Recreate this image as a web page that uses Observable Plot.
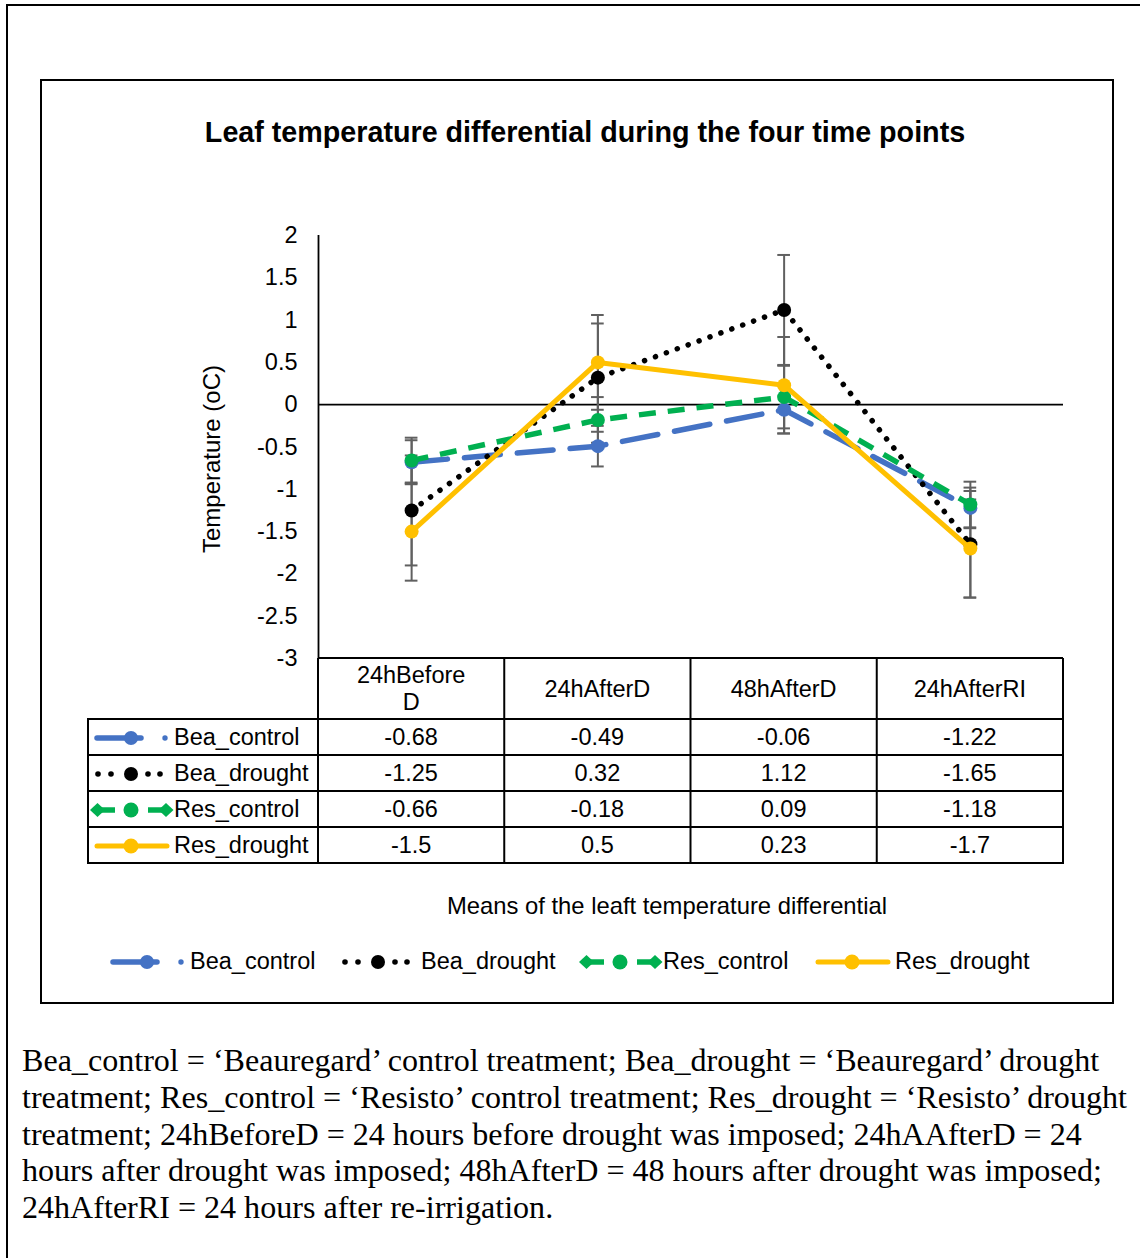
<!DOCTYPE html>
<html><head><meta charset="utf-8">
<script src="https://cdn.jsdelivr.net/npm/d3@7"></script>
<script src="https://cdn.jsdelivr.net/npm/@observablehq/plot@0.6"></script>
<style>
body{margin:0;background:#fff;}
#root{position:relative;width:1140px;height:1258px;overflow:hidden;font-family:"Liberation Sans",Arial,sans-serif;color:#000;background:#fff;}
.abs{position:absolute;}
</style></head><body><div id="root"></div>
<script>
// ---------- data ----------
const categories = ["24hBeforeD", "24hAfterD", "48hAfterD", "24hAfterRI"];
const headerLabels = ["24hBefore<br>D", "24hAfterD", "48hAfterD", "24hAfterRI"];
const seriesNames = ["Bea_control", "Bea_drought", "Res_control", "Res_drought"];
const beaControl = [-0.68, -0.49, -0.06, -1.22];
const beaDrought = [-1.25, 0.32, 1.12, -1.65];
const resControl = [-0.66, -0.18, 0.09, -1.18];
const resDrought = [-1.5, 0.5, 0.23, -1.7];
const beaControlErr = [0.26, 0.24, 0.28, 0.24];
const beaDroughtErr = [0.65, 0.64, 0.65, 0.63];
const resControlErr = [0.27, 0.27, 0.37, 0.27];
const resDroughtErr = [0.58, 0.56, 0.57, 0.58];
const yTicks = [2, 1.5, 1, 0.5, 0, -0.5, -1, -1.5, -2, -2.5, -3];
const title = "Leaf temperature differential during the four time points";
const yLabel = "Temperature (oC)";
const tableTitle = "Means of the leaft temperature differential";
const captionLines = [
  "Bea_control = ‘Beauregard’ control treatment; Bea_drought = ‘Beauregard’ drought",
  "treatment; Res_control = ‘Resisto’ control treatment; Res_drought = ‘Resisto’ drought",
  "treatment; 24hBeforeD = 24 hours before drought was imposed; 24hAAfterD = 24",
  "hours after drought was imposed; 48hAfterD = 48 hours after drought was imposed;",
  "24hAfterRI = 24 hours after re-irrigation."
];

const seriesValues = [beaControl, beaDrought, resControl, resDrought];
const seriesErr = [beaControlErr, beaDroughtErr, resControlErr, resDroughtErr];
const colors = ["#4472C4", "#000000", "#00B050", "#FFC000"];
const styles = [
  {strokeWidth: 5.5, strokeDasharray: "36,17", strokeLinecap: "round"},
  {strokeWidth: 5.5, strokeDasharray: "0.1,11.5", strokeLinecap: "round"},
  {strokeWidth: 5.5, strokeDasharray: "17,12", strokeLinecap: "butt"},
  {strokeWidth: 5, strokeLinecap: "round"}
];

const rows = seriesNames.flatMap((s, k) => categories.map((c, i) => ({s, k, i, c, v: seriesValues[k][i], e: seriesErr[k][i]})));

// ---------- layout ----------
const root = document.getElementById("root");
function addDiv(html, style) {
  const d = document.createElement("div");
  d.className = "abs";
  d.innerHTML = html;
  Object.assign(d.style, style);
  root.appendChild(d);
  return d;
}
function centered(html, x, y, size, extra = {}) {
  return addDiv(html, Object.assign({left: x + "px", top: y + "px", transform: "translate(-50%,-50%)", lineHeight: "1", fontSize: size + "px", whiteSpace: "nowrap", textAlign: "center"}, extra));
}

// outer border and chart box
addDiv("", {left: "6px", top: "4px", width: "1300px", height: "1400px", border: "2.5px solid #000", boxSizing: "border-box"});
addDiv("", {left: "40px", top: "79px", width: "1074px", height: "925px", border: "2px solid #000", boxSizing: "border-box"});

// title
centered(title, 585, 132, 28.7, {fontWeight: "bold"});
// y label
centered(yLabel, 212, 459, 24, {transform: "translate(-50%,-50%) rotate(-90deg)"});

// ---------- plot ----------
const x0 = 318, x1 = 1063;
const plot = Plot.plot({
  width: 1140, height: 700,
  marginLeft: x0, marginRight: 1140 - x1, marginTop: 235, marginBottom: 42,
  x: {type: "linear", domain: [-0.5, 3.5], axis: null},
  y: {type: "linear", domain: [-3, 2], axis: null},
  style: {background: "transparent", overflow: "visible", fontFamily: "Liberation Sans, Arial, sans-serif"},
  marks: [
    Plot.ruleY([0], {stroke: "#000", strokeWidth: 1.8}),
    Plot.ruleX([-0.5], {y1: -3, y2: 2, stroke: "#000", strokeWidth: 1.8}),
    Plot.text(yTicks, {x: -0.5, y: d => d, text: d => String(d), textAnchor: "end", dx: -21, fontSize: 23.5, fill: "#000"}),
    Plot.ruleX(rows, {x: "i", y1: d => d.v - d.e, y2: d => d.v + d.e, stroke: "#606060", strokeWidth: 2}),
    Plot.ruleY(rows, {y: d => d.v + d.e, x1: d => d.i - 0.034, x2: d => d.i + 0.034, stroke: "#606060", strokeWidth: 2}),
    Plot.ruleY(rows, {y: d => d.v - d.e, x1: d => d.i - 0.034, x2: d => d.i + 0.034, stroke: "#606060", strokeWidth: 2}),
    ...seriesValues.flatMap((vals, k) => [
      Plot.line(vals, Object.assign({x: (d, i) => i, y: d => d, stroke: colors[k]}, styles[k])),
      Plot.dot(vals, {x: (d, i) => i, y: d => d, r: 7, fill: colors[k], stroke: "none"})
    ])
  ]
});
plot.style.position = "absolute";
plot.style.left = "0px";
plot.style.top = "0px";
root.appendChild(plot);

// ---------- table ----------
const colX = [88, 318, 504.25, 690.5, 876.75, 1063];
const rowY = [658, 719, 755, 791, 827, 863];
const ns = "http://www.w3.org/2000/svg";
const grid = document.createElementNS(ns, "svg");
grid.setAttribute("width", 1140); grid.setAttribute("height", 1258);
grid.style.position = "absolute"; grid.style.left = "0"; grid.style.top = "0";
function gl(xa, ya, xb, yb) {
  const l = document.createElementNS(ns, "line");
  l.setAttribute("x1", xa); l.setAttribute("y1", ya); l.setAttribute("x2", xb); l.setAttribute("y2", yb);
  l.setAttribute("stroke", "#000"); l.setAttribute("stroke-width", 2);
  grid.appendChild(l);
}
gl(colX[1], rowY[0], colX[5], rowY[0]);
for (let r = 1; r < rowY.length; r++) gl(colX[0] - 1, rowY[r], colX[5] + 1, rowY[r]);
gl(colX[0], rowY[1], colX[0], rowY[5]);
for (let c = 1; c < colX.length; c++) gl(colX[c], rowY[0], colX[c], rowY[5]);
root.appendChild(grid);

const fs = 23.5;
headerLabels.forEach((h, i) => {
  const cx = (colX[i + 1] + colX[i + 2]) / 2;
  centered(h, cx, (rowY[0] + rowY[1]) / 2 + 0.5, fs, {lineHeight: "27px"});
});

function keySvg(k) {
  const o = 6, c = 12, col = colors[k];
  let s = `<svg width="90" height="24" style="overflow:visible">`;
  if (k === 0) {
    s += `<line x1="${o + 1}" y1="${c}" x2="${o + 45}" y2="${c}" stroke="${col}" stroke-width="5.5" stroke-linecap="round"/>`;
    s += `<circle cx="${o + 35}" cy="${c}" r="7" fill="${col}"/>`;
    s += `<circle cx="${o + 69}" cy="${c}" r="2.7" fill="${col}"/>`;
  } else if (k === 1) {
    [2, 15, 52, 64].forEach(dx => s += `<circle cx="${o + dx}" cy="${c}" r="2.8" fill="${col}"/>`);
    s += `<circle cx="${o + 35}" cy="${c}" r="7" fill="${col}"/>`;
  } else if (k === 2) {
    s += `<line x1="${o + 2}" y1="${c}" x2="${o + 19}" y2="${c}" stroke="${col}" stroke-width="5.5"/>`;
    s += `<line x1="${o + 52}" y1="${c}" x2="${o + 70}" y2="${c}" stroke="${col}" stroke-width="5.5"/>`;
    const dia = (cx) => `<polygon points="${cx - 7.5},${c} ${cx},${c - 7} ${cx + 7.5},${c} ${cx},${c + 7}" fill="${col}"/>`;
    s += dia(o + 1.5) + dia(o + 70);
    s += `<circle cx="${o + 35}" cy="${c}" r="7.5" fill="${col}"/>`;
  } else {
    s += `<line x1="${o + 1}" y1="${c}" x2="${o + 71}" y2="${c}" stroke="${col}" stroke-width="5" stroke-linecap="round"/>`;
    s += `<circle cx="${o + 35}" cy="${c}" r="7.5" fill="${col}"/>`;
  }
  return s + `</svg>`;
}
function addKey(k, ox, cy) {
  addDiv(keySvg(k), {left: (ox - 6) + "px", top: (cy - 12) + "px", width: "90px", height: "24px", lineHeight: "0"});
  addDiv(seriesNames[k], {left: (ox + 78) + "px", top: cy + "px", transform: "translateY(-50%)", fontSize: fs + "px", lineHeight: "1", whiteSpace: "nowrap"});
}

seriesNames.forEach((s, k) => {
  const cy = (rowY[k + 1] + rowY[k + 2]) / 2 + 0.5;
  addKey(k, 96, cy);
  seriesValues[k].forEach((v, i) => {
    const cx = (colX[i + 1] + colX[i + 2]) / 2;
    centered(String(v), cx, cy, fs);
  });
});

centered(tableTitle, 667, 905.5, 23.8);

// legend
const legendX = [112, 343, 585, 817];
seriesNames.forEach((s, k) => addKey(k, legendX[k], 961.5));

// caption
captionLines.forEach((t, j) => {
  addDiv(t, {left: "22px", top: (1042 + j * 36.75) + "px", fontFamily: "'Liberation Serif','Times New Roman',serif", fontSize: "32.1px", lineHeight: "36.75px", whiteSpace: "nowrap"});
});
</script></body></html>
